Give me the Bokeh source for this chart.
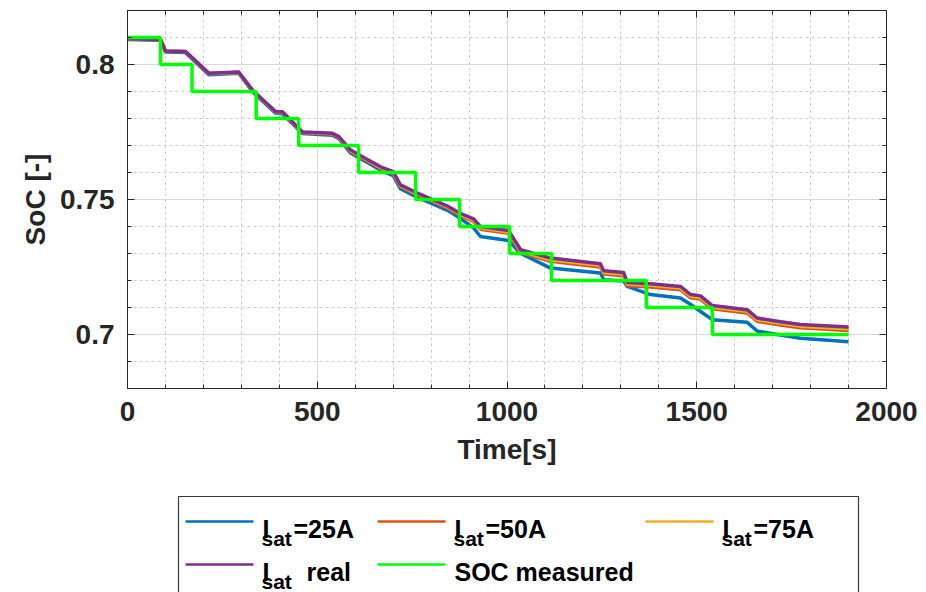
from bokeh.plotting import figure
from bokeh.layouts import column
from bokeh.models import Range1d, FixedTicker, LinearAxis
from bokeh.core.properties import value
from bokeh.embed import file_html
from bokeh.resources import INLINE

# ---------------- data ----------------
time_s = [0, 87, 100, 153, 214, 293, 330, 390, 408, 461, 540, 557, 588, 632, 667,
          700, 719, 764, 807, 843, 875, 912, 930, 1004, 1036, 1115, 1246, 1255,
          1307, 1317, 1378, 1457, 1484, 1510, 1541, 1633, 1659, 1712, 1773, 1900]

soc_isat_25 = [0.8093, 0.8090, 0.8046, 0.8044, 0.7962, 0.7968, 0.7898, 0.7820, 0.7818,
               0.7744, 0.7738, 0.7725, 0.7672, 0.7637, 0.7608, 0.7588, 0.7540, 0.7508,
               0.7482, 0.7460, 0.7432, 0.7395, 0.7363, 0.7348, 0.7300, 0.7246, 0.7228,
               0.7203, 0.7198, 0.7178, 0.7148, 0.7135, 0.7111, 0.7085, 0.7055, 0.7045,
               0.7013, 0.7000, 0.6986, 0.6973]

soc_isat_50 = [0.8094, 0.8092, 0.8049, 0.8047, 0.7966, 0.7970, 0.7902, 0.7824, 0.7822,
               0.7747, 0.7742, 0.7729, 0.7678, 0.7643, 0.7615, 0.7597, 0.7548, 0.7517,
               0.7491, 0.7469, 0.7443, 0.7418, 0.7390, 0.7375, 0.7303, 0.7271, 0.7250,
               0.7224, 0.7218, 0.7181, 0.7176, 0.7166, 0.7136, 0.7131, 0.7095, 0.7080,
               0.7049, 0.7037, 0.7025, 0.7015]

soc_isat_75 = [0.8095, 0.8093, 0.8050, 0.8048, 0.7967, 0.7971, 0.7903, 0.7825, 0.7824,
               0.7749, 0.7744, 0.7731, 0.7681, 0.7646, 0.7618, 0.7600, 0.7551, 0.7521,
               0.7495, 0.7473, 0.7447, 0.7423, 0.7395, 0.7380, 0.7309, 0.7277, 0.7256,
               0.7230, 0.7224, 0.7187, 0.7182, 0.7172, 0.7142, 0.7137, 0.7101, 0.7086,
               0.7055, 0.7043, 0.7031, 0.7021]

soc_isat_real = [0.8095, 0.8093, 0.8050, 0.8048, 0.7968, 0.7972, 0.7904, 0.7826, 0.7825,
                 0.7750, 0.7745, 0.7733, 0.7683, 0.7648, 0.7621, 0.7603, 0.7554, 0.7524,
                 0.7498, 0.7476, 0.7450, 0.7428, 0.7400, 0.7385, 0.7314, 0.7283, 0.7262,
                 0.7236, 0.7230, 0.7193, 0.7188, 0.7178, 0.7148, 0.7143, 0.7107, 0.7092,
                 0.7061, 0.7049, 0.7037, 0.7028]

meas_time_s = [0, 87, 170, 339, 451, 609, 759, 875, 1007, 1117, 1367, 1541, 1900]
soc_measured = [0.81, 0.80, 0.79, 0.78, 0.77, 0.76, 0.75, 0.74, 0.73, 0.72, 0.71, 0.70, 0.70]

x_ticks = [0, 500, 1000, 1500, 2000]
x_minor_ticks = list(range(0, 2001, 100))
y_ticks = [0.7, 0.75, 0.8]
y_tick_labels = ["0.7", "0.75", "0.8"]
y_minor_ticks = [round(0.68 + 0.01 * i, 2) for i in range(15)]

series_colors = ["#0072BD", "#D95319", "#EDB120", "#7E2F8E"]
green = "#00FF00"

# legend entries: (main, subscript, rest, colour)
legend_entries = [("I", "sat", "=25A", "#0072BD"),
                  ("I", "sat", "=50A", "#D95319"),
                  ("I", "sat", "=75A", "#EDB120"),
                  ("I", "sat", "real", "#7E2F8E"),
                  ("SOC measured", "", "", green)]

FONT = value("Liberation Sans")
DARK = "#262626"

FL, FW, FT, FH, FR = 127, 759, 10, 378, 32     # frame placement (px)
MAIN_H = 490
TOTAL_H = 592

# ---------------- main plot ----------------
p = figure(frame_width=FW, frame_height=FH,
           x_range=Range1d(0, 2000), y_range=Range1d(0.68, 0.82),
           min_border_left=FL, min_border_right=FR, min_border_top=FT,
           min_border_bottom=MAIN_H - FT - FH,
           output_backend="svg", toolbar_location=None,
           background_fill_color="white", border_fill_color="white")
p.outline_line_color = DARK
p.outline_line_width = 1

p.xaxis.ticker = FixedTicker(ticks=x_ticks, minor_ticks=x_minor_ticks)
p.yaxis.ticker = FixedTicker(ticks=y_ticks, minor_ticks=y_minor_ticks)
p.yaxis.major_label_overrides = {t: l for t, l in zip(y_ticks, y_tick_labels)}

for ax in (p.xaxis, p.yaxis):
    ax.axis_line_color = DARK
    ax.major_tick_line_color = DARK
    ax.minor_tick_line_color = DARK
    ax.major_tick_in = 7
    ax.major_tick_out = 0
    ax.minor_tick_in = 4
    ax.minor_tick_out = 0
    ax.major_label_text_font = "Liberation Sans"
    ax.major_label_text_font_style = "bold"
    ax.major_label_text_font_size = "28px"
    ax.major_label_text_color = DARK
    ax.major_label_standoff = 13
    ax.axis_label_text_font = "Liberation Sans"
    ax.axis_label_text_font_style = "bold"
    ax.axis_label_text_font_size = "28px"
    ax.axis_label_text_color = DARK

p.xaxis.axis_label = "Time[s]"
p.xaxis.axis_label_standoff = 10
p.yaxis.axis_label = "SoC [-]"
p.yaxis.axis_label_standoff = 6

# box ticks on top and right
p.add_layout(LinearAxis(ticker=FixedTicker(ticks=x_ticks, minor_ticks=x_minor_ticks),
                        major_label_overrides={t: "" for t in x_ticks},
                        major_label_text_font_size="1px", major_label_standoff=0,
                        axis_line_color=DARK, major_tick_line_color=DARK,
                        minor_tick_line_color=DARK, major_tick_in=7, major_tick_out=0,
                        minor_tick_in=4, minor_tick_out=0), "above")
p.add_layout(LinearAxis(ticker=FixedTicker(ticks=y_ticks, minor_ticks=y_minor_ticks),
                        major_label_overrides={t: "" for t in y_ticks},
                        major_label_text_font_size="1px", major_label_standoff=0,
                        axis_line_color=DARK, major_tick_line_color=DARK,
                        minor_tick_line_color=DARK, major_tick_in=7, major_tick_out=0,
                        minor_tick_in=4, minor_tick_out=0), "right")

for g in (p.xgrid, p.ygrid):
    g.grid_line_color = "#d9d9d9"
    g.grid_line_width = 1
    g.minor_grid_line_color = "#cccccc"
    g.minor_grid_line_dash = "3 3"
    g.minor_grid_line_width = 1

for ys, col in zip([soc_isat_25, soc_isat_50, soc_isat_75, soc_isat_real], series_colors):
    p.line(time_s, ys, line_color=col, line_width=3.5, line_join="round")

p.step(meas_time_s, soc_measured, mode="after", line_color=green, line_width=3.5)

# ---------------- legend (separate panel, coordinates = page pixels) ----------------
LH = TOTAL_H - MAIN_H
lg = figure(frame_width=FW, frame_height=LH,
            x_range=Range1d(FL, FL + FW), y_range=Range1d(TOTAL_H, MAIN_H),
            x_axis_type=None, y_axis_type=None,
            min_border_left=FL, min_border_right=FR, min_border_top=0, min_border_bottom=0,
            output_backend="svg", toolbar_location=None,
            background_fill_color="white", border_fill_color="white")
lg.grid.visible = False
lg.outline_line_color = None

lg.quad(left=[178], right=[858], top=[496], bottom=[700], fill_color=None,
        line_color="#3a3a3a", line_width=1.2)

col_x = [185, 377, 645, 185, 377]     # left of sample line
row_y = [521, 521, 521, 564, 564]     # sample line y
rest_dx = [31, 31, 31, 44, 0]         # offset of text after the subscript
line_len = 68
text_gap = 9
for (main, sub, rest, col), cx, ry, rdx in zip(legend_entries, col_x, row_y, rest_dx):
    lg.segment(x0=[cx], y0=[ry], x1=[cx + line_len], y1=[ry], line_color=col, line_width=2.5)
    tx = cx + line_len + text_gap
    base = ry + 7
    lg.text(x=[tx], y=[base], text=[main], text_font=FONT, text_font_style="bold",
            text_font_size="25px", text_color="black", text_baseline="alphabetic")
    if sub:
        lg.text(x=[tx - 1], y=[base + 10], text=[sub], text_font=FONT, text_font_style="bold",
                text_font_size="21px", text_color="black", text_baseline="alphabetic")
        lg.text(x=[tx + rdx], y=[base], text=[rest], text_font=FONT, text_font_style="bold",
                text_font_size="25px", text_color="black", text_baseline="alphabetic")

layout = column(p, lg, spacing=0)
open("out.html", "w").write(file_html(layout, INLINE))
